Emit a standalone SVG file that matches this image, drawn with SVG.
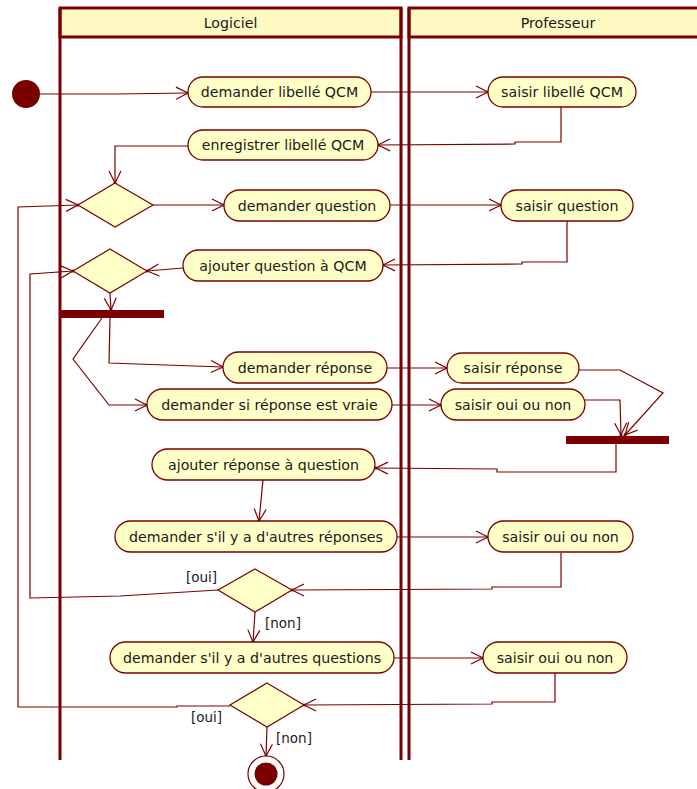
<svg xmlns="http://www.w3.org/2000/svg" width="697" height="789" viewBox="0 0 697 789">
  <style>
    .lane { fill: none; stroke: #7a0000; stroke-width: 3; }
    .head { fill: #fffac4; stroke: #7a0000; stroke-width: 3; }
    .act { fill: #ffffc8; stroke: #7a0000; stroke-width: 1.3; }
    .dec { fill: #ffffc8; stroke: #7a0000; stroke-width: 1.2; }
    .bar { fill: #7a0000; }
    .t { font-family: "DejaVu Sans", "Liberation Sans", sans-serif; font-size: 14.2px; fill: #1a1a1a; text-anchor: middle; dominant-baseline: central; }
    .g { font-family: "DejaVu Sans", "Liberation Sans", sans-serif; font-size: 13.5px; fill: #1a1a1a; dominant-baseline: central; }
    .c { fill: none; stroke: #7a0000; stroke-width: 1.2; marker-end: url(#arr); }
  </style>
  <defs>
    <marker id="arr" viewBox="-14 -8 16 16" markerWidth="16" markerHeight="16" refX="0" refY="0" orient="auto" markerUnits="userSpaceOnUse">
      <path d="M-12,-6 L0,0 L-12,6" fill="none" stroke="#7a0000" stroke-width="1.2"/>
      <circle cx="0" cy="0" r="1.6" fill="#7a0000"/>
    </marker>
  </defs>
  <rect width="697" height="789" fill="#ffffff"/>

  <!-- swimlanes -->
  <g id="lane-logiciel">
    <rect class="head" x="60" y="8" width="341" height="29"/>
    <line class="lane" x1="60" y1="8" x2="60" y2="760"/>
    <line class="lane" x1="401" y1="8" x2="401" y2="760"/>
    <text class="t" x="230.5" y="23">Logiciel</text>
  </g>
  <g id="lane-professeur">
    <rect class="head" x="409" y="8" width="300" height="29"/>
    <line class="lane" x1="409" y1="8" x2="409" y2="760"/>
    <text class="t" x="558" y="23">Professeur</text>
  </g>

  <!-- connectors -->
  <g id="connectors">
    <polyline class="c" points="40,94 115,94 188,93"/>
    <polyline class="c" points="371,92 488,92"/>
    <polyline class="c" points="561,107 561,142 515,142 515,144 378,145"/>
    <polyline class="c" points="188,146 115,146 115,183"/>
    <polyline class="c" points="153,205 224,205"/>
    <polyline class="c" points="390,205 501,205"/>
    <polyline class="c" points="567,221 567,262 522,262 522,264 383,265"/>
    <polyline class="c" points="183,268 147,271"/>
    <polyline class="c" points="110,293 111,310"/>
    <polyline class="c" points="110,318 109,363 223,367"/>
    <polyline class="c" points="102,318 73,359 109,405 147,405"/>
    <polyline class="c" points="387,368 447,368"/>
    <polyline class="c" points="392,405 441,405"/>
    <polyline class="c" points="579,370 620,370 663,393 625,435"/>
    <polyline class="c" points="585,400 620,400 621,435"/>
    <polyline class="c" points="616,444 616,472 497,472 497,469 376,468"/>
    <polyline class="c" points="263,480 259,521"/>
    <polyline class="c" points="397,537 488,537"/>
    <polyline class="c" points="561,553 561,587 492,587 492,589 292,590"/>
    <polyline class="c" points="218,590 120,596 30,598 30,274 73,271"/>
    <polyline class="c" points="255,612 253,642"/>
    <polyline class="c" points="394,658 483,658"/>
    <polyline class="c" points="555,673 555,702 492,702 492,704 304,705"/>
    <polyline class="c" points="230,706 177,706 177,707 18,707 18,207 78,205"/>
    <polyline class="c" points="267,727 266,756"/>
  </g>

  <!-- start -->
  <g id="start">
    <circle cx="26" cy="94" r="14" fill="#7a0000"/>
  </g>

  <!-- actions -->
  <g id="a-demander-libelle">
    <rect class="act" x="188" y="77" width="183" height="30" rx="15"/>
    <text class="t" x="279.5" y="92">demander libellé QCM</text>
  </g>
  <g id="a-saisir-libelle">
    <rect class="act" x="488" y="77" width="148" height="30" rx="15"/>
    <text class="t" x="562" y="92">saisir libellé QCM</text>
  </g>
  <g id="a-enregistrer-libelle">
    <rect class="act" x="188" y="130" width="190" height="30" rx="15"/>
    <text class="t" x="283" y="145">enregistrer libellé QCM</text>
  </g>
  <g id="d-question">
    <polygon class="dec" points="115,183 153,205 115,227 78,205"/>
  </g>
  <g id="a-demander-question">
    <rect class="act" x="224" y="190" width="166" height="31" rx="15.5"/>
    <text class="t" x="307" y="205.5">demander question</text>
  </g>
  <g id="a-saisir-question">
    <rect class="act" x="501" y="190" width="132" height="31" rx="15.5"/>
    <text class="t" x="567" y="205.5">saisir question</text>
  </g>
  <g id="a-ajouter-question">
    <rect class="act" x="183" y="250" width="200" height="31" rx="15.5"/>
    <text class="t" x="283" y="265.5">ajouter question à QCM</text>
  </g>
  <g id="d-reponse">
    <polygon class="dec" points="110,249 147,271 110,293 73,271"/>
  </g>
  <g id="fork">
    <rect class="bar" x="60" y="310" width="104" height="8"/>
  </g>
  <g id="a-demander-reponse">
    <rect class="act" x="223" y="352" width="164" height="31" rx="15.5"/>
    <text class="t" x="305" y="367.5">demander réponse</text>
  </g>
  <g id="a-demander-vraie">
    <rect class="act" x="147" y="389" width="245" height="31" rx="15.5"/>
    <text class="t" x="269.5" y="404.5">demander si réponse est vraie</text>
  </g>
  <g id="a-saisir-reponse">
    <rect class="act" x="447" y="353" width="132" height="30" rx="15"/>
    <text class="t" x="513" y="368">saisir réponse</text>
  </g>
  <g id="a-saisir-oui-non-1">
    <rect class="act" x="441" y="389" width="144" height="31" rx="15.5"/>
    <text class="t" x="513" y="404.5">saisir oui ou non</text>
  </g>
  <g id="join">
    <rect class="bar" x="566" y="436" width="103" height="8"/>
  </g>
  <g id="a-ajouter-reponse">
    <rect class="act" x="152" y="449" width="223" height="31" rx="15.5"/>
    <text class="t" x="263.5" y="464.5">ajouter réponse à question</text>
  </g>
  <g id="a-autres-reponses">
    <rect class="act" x="115" y="521" width="282" height="31" rx="15.5"/>
    <text class="t" x="256" y="536.5">demander s'il y a d'autres réponses</text>
  </g>
  <g id="a-saisir-oui-non-2">
    <rect class="act" x="488" y="521" width="145" height="31" rx="15.5"/>
    <text class="t" x="560.5" y="536.5">saisir oui ou non</text>
  </g>
  <g id="d-autres-reponses">
    <polygon class="dec" points="255,569 292,590 255,612 218,590"/>
    <text class="g" x="186" y="577">[oui]</text>
    <text class="g" x="265" y="623">[non]</text>
  </g>
  <g id="a-autres-questions">
    <rect class="act" x="110" y="642" width="284" height="31" rx="15.5"/>
    <text class="t" x="252" y="657.5">demander s'il y a d'autres questions</text>
  </g>
  <g id="a-saisir-oui-non-3">
    <rect class="act" x="483" y="642" width="144" height="31" rx="15.5"/>
    <text class="t" x="555" y="657.5">saisir oui ou non</text>
  </g>
  <g id="d-autres-questions">
    <polygon class="dec" points="267,683 304,705 267,727 230,705"/>
    <text class="g" x="191" y="717">[oui]</text>
    <text class="g" x="276" y="738">[non]</text>
  </g>

  <!-- end -->
  <g id="end">
    <circle cx="266" cy="774" r="18" fill="#ffffff" stroke="#7a0000" stroke-width="1.2"/>
    <circle cx="266" cy="774" r="11.5" fill="#7a0000"/>
  </g>
</svg>
